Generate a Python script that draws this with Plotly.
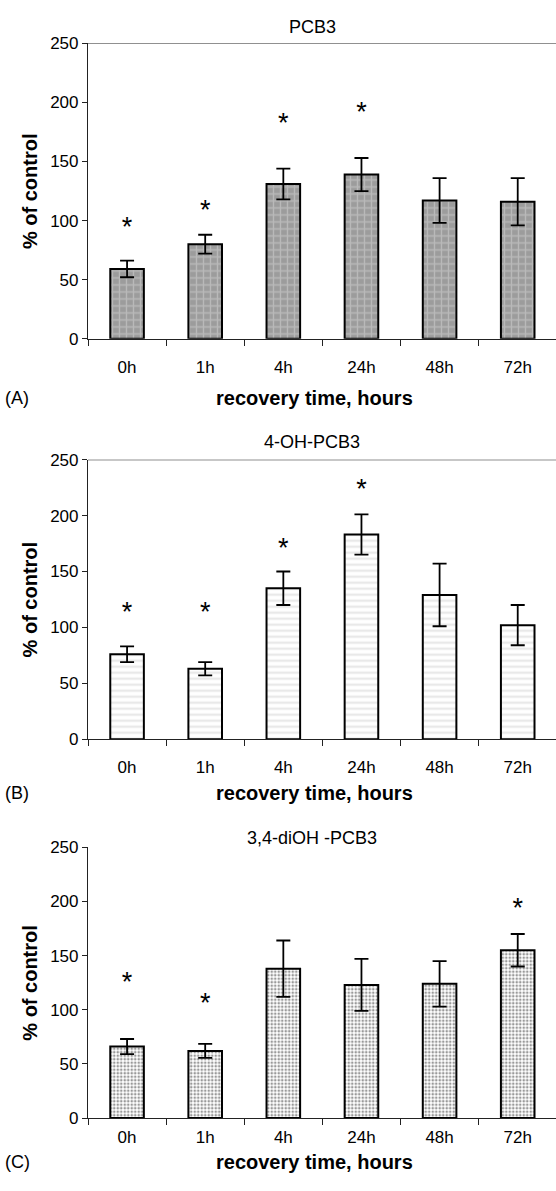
import plotly.graph_objects as go

categories = ["0h", "1h", "4h", "24h", "48h", "72h"]

pcb3_values = [59, 80, 131, 139, 117, 116]
pcb3_errors = [7, 8, 13, 14, 19, 20]
pcb3_star_level = [93, 107, 181, 190, None, None]

oh_values = [76, 63, 135, 183, 129, 102]
oh_errors = [7, 6, 15, 18, 28, 18]
oh_star_level = [112, 112, 169, 222, None, None]

dioh_values = [66, 62, 138, 123, 124, 155]
dioh_errors = [7, 6.5, 26, 24, 21, 15]
dioh_star_level = [124, 104, None, None, None, 192]

titles = ["PCB3", "4-OH-PCB3", "3,4-diOH -PCB3"]
panel_labels = ["(A)", "(B)", "(C)"]
x_title = "recovery time, hours"
y_title = "% of control"

H = 1191.0
W = 556.0
FONT = "Liberation Sans, Arial, sans-serif"

def yd(top_px, bot_px):
    return [1 - bot_px / H, 1 - top_px / H]

# pixel layout of each panel
panels_px = [(35, 335), (458, 742), (852, 1127)]
title_off = [17, 18, 10]
xtitle_off = [60, 55, 45]
label_standoff = [13, 12, 3]
x_domain = [88 / W, 1.0]

patterns = [
    dict(shape="+", bgcolor="#9c9c9c", fgcolor="#d6d6d6", size=7, solidity=0.35),
    dict(shape="-", bgcolor="#ffffff", fgcolor="#d4d4d4", size=6, solidity=0.4),
    dict(shape=".", bgcolor="#ffffff", fgcolor="#333333", size=3.5, solidity=0.45),
]

series = [
    (pcb3_values, pcb3_errors, pcb3_star_level),
    (oh_values, oh_errors, oh_star_level),
    (dioh_values, dioh_errors, dioh_star_level),
]

fig = go.Figure()
layout = dict(
    width=556, height=1191,
    margin=dict(l=0, r=0, t=0, b=0),
    paper_bgcolor="white", plot_bgcolor="white",
    showlegend=False,
    font=dict(family=FONT, size=17, color="black"),
)
annotations = []
shapes = []

for i, (vals, errs, stars) in enumerate(series):
    n = "" if i == 0 else str(i + 1)
    xa, ya = "x" + n, "y" + n
    fig.add_trace(go.Bar(
        x=categories, y=vals,
        xaxis=xa, yaxis=ya,
        marker=dict(color=patterns[i]["bgcolor"], pattern=patterns[i],
                    line=dict(color="black", width=2)),
        error_y=dict(type="data", array=errs, color="black", thickness=1.8, width=7),
        width=0.43,
    ))
    sx = [c for c, s in zip(categories, stars) if s is not None]
    sy = [s for s in stars if s is not None]
    fig.add_trace(go.Scatter(
        x=sx, y=sy, xaxis=xa, yaxis=ya, mode="text", text=["*"] * len(sx),
        textposition="middle center",
        textfont=dict(family=FONT, size=27, color="black"),
        hoverinfo="skip",
    ))
    top, bot = panels_px[i]
    layout["xaxis" + n] = dict(
        domain=x_domain, anchor=ya, type="category",
        range=[-0.5, 5.49],
        showline=True, linecolor="#222222", linewidth=1.2,
        ticks="outside", ticklen=6, tickcolor="#222222", tickwidth=1.2,
        tickson="boundaries", showgrid=False, zeroline=False,
        tickfont=dict(family=FONT, size=17, color="black"),
        ticklabelstandoff=label_standoff[i],
    )
    layout["yaxis" + n] = dict(
        domain=yd(top, bot), anchor=xa,
        range=[0, 250], tickvals=[0, 50, 100, 150, 200, 250],
        showline=True, linecolor="#222222", linewidth=1.2,
        ticks="outside", ticklen=5, tickcolor="#222222", tickwidth=1.2,
        showgrid=False, zeroline=False,
        tickfont=dict(family=FONT, size=17, color="black"),
    )
    if i < 2:
        shapes.append(dict(type="line", xref=xa + " domain", yref=ya,
                           x0=0, x1=1, y0=250, y1=250,
                           line=dict(color="#222222", width=1.2)))
    annotations.append(dict(
        text=titles[i], xref="paper", yref="paper",
        x=312 / W, y=1 - (top - title_off[i]) / H,
        showarrow=False, xanchor="center", yanchor="middle",
        font=dict(family=FONT, size=18, color="black")))
    annotations.append(dict(
        text="<b>" + x_title + "</b>", xref="paper", yref="paper",
        x=314 / W, y=1 - (bot + xtitle_off[i]) / H,
        showarrow=False, xanchor="center", yanchor="middle",
        font=dict(family=FONT, size=20, color="black")))
    annotations.append(dict(
        text=panel_labels[i], xref="paper", yref="paper",
        x=3 / W, y=1 - (bot + xtitle_off[i]) / H,
        showarrow=False, xanchor="left", yanchor="middle",
        font=dict(family=FONT, size=18, color="black")))
    annotations.append(dict(
        text="<b>" + y_title + "</b>", xref="paper", yref="paper",
        x=30 / W, y=1 - (top + bot) / 2 / H, textangle=-90,
        showarrow=False, xanchor="center", yanchor="middle",
        font=dict(family=FONT, size=20, color="black")))

layout["annotations"] = annotations
layout["shapes"] = shapes
fig.update_layout(**layout)
fig.write_html("out.html")
